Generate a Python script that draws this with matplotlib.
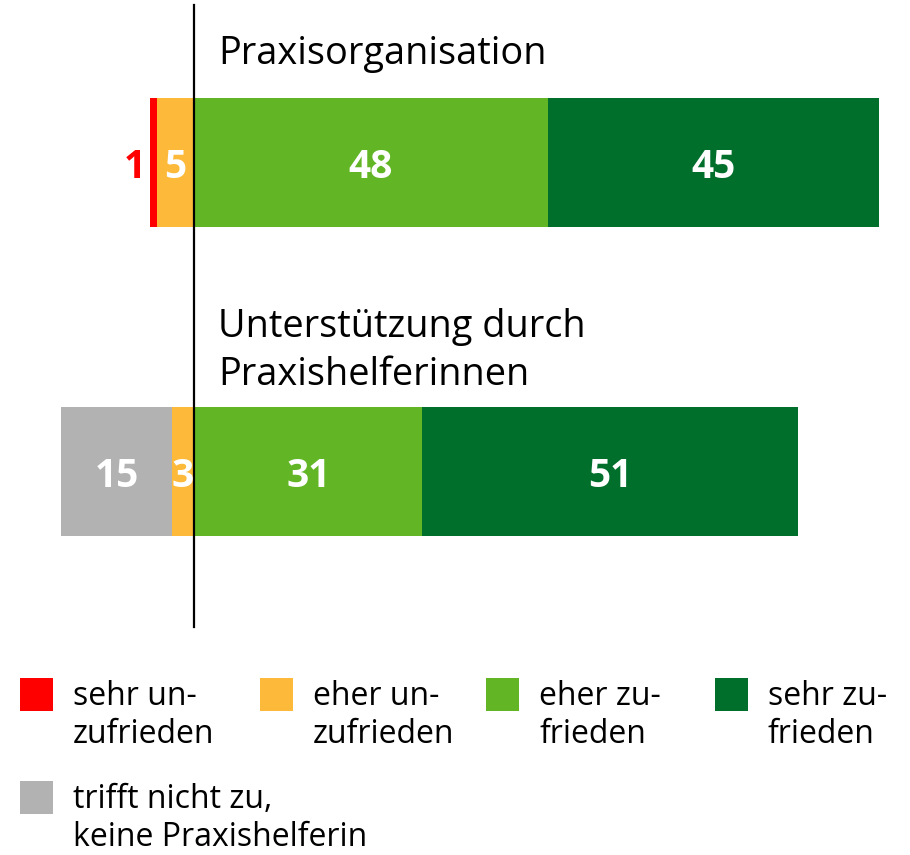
import matplotlib
matplotlib.use("Agg")
from matplotlib import pyplot as plt
import numpy as np

plt.rcParams['font.family'] = ['Open Sans', 'DejaVu Sans']

# daten (prozent)
kategorien = [["Praxisorganisation"], ["Unterstützung durch", "Praxishelferinnen"]]
sehr_un = [1, 0]
eher_un = [5, 3]
trifft_nicht = [0, 15]
eher_zu = [48, 31]
sehr_zu = [45, 51]

farben = {"sehr_un": "#ff0000", "eher_un": "#fdb93a", "eher_zu": "#62b625",
          "sehr_zu": "#006f2c", "nicht": "#b2b2b2"}

leg_labels = [["sehr un-", "zufrieden"], ["eher un-", "zufrieden"], ["eher zu-", "frieden"],
              ["sehr zu-", "frieden"], ["trifft nicht zu,", "keine Praxishelferin"]]
leg_farben = [farben["sehr_un"], farben["eher_un"], farben["eher_zu"], farben["sehr_zu"], farben["nicht"]]

W, H = 910, 855
fig = plt.figure(figsize=(W / 100, H / 100), dpi=100)
ax = fig.add_axes([0, 0, 1, 1])
ax.axis("off")

pxu = 7.37      # pixel pro prozent
zero_px = 194
rowsp = 309
row0 = 162.5
ax.set_xlim(-zero_px / pxu, (W - zero_px) / pxu)
ax.set_ylim((H - row0) / rowsp, -row0 / rowsp)
h = 129 / rowsp

y = np.arange(len(kategorien))
eu = np.array(eher_un)
su = np.array(sehr_un)
tn = np.array(trifft_nicht)
ez = np.array(eher_zu)
sz = np.array(sehr_zu)

ax.barh(y, -eu, height=h, color=farben["eher_un"], lw=0)
ax.barh(y, -su, left=-eu, height=h, color=farben["sehr_un"], lw=0)
ax.barh(y, -tn, left=-eu - su, height=h, color=farben["nicht"], lw=0)
ax.barh(y, ez, height=h, color=farben["eher_zu"], lw=0)
ax.barh(y, sz, left=ez, height=h, color=farben["sehr_zu"], lw=0)

ax.axvline(0, ymin=1 - 627 / H, ymax=1 - 5 / H, color="black", lw=1.6)

kw = dict(fontsize=28, fontweight="bold", va="center_baseline", ha="center")
for i in range(len(y)):
    for val, mid in [(eu[i], -eu[i] / 2), (tn[i], -eu[i] - su[i] - tn[i] / 2),
                     (ez[i], ez[i] / 2), (sz[i], ez[i] + sz[i] / 2)]:
        if val > 0:
            ax.text(mid, y[i], str(val), color="white", **kw)
    if su[i] > 0:
        ax.annotate(str(su[i]), xy=(-eu[i] - su[i], y[i]), xytext=(-4, 0),
                    textcoords="offset pixels", color=farben["sehr_un"],
                    fontsize=28, fontweight="bold", va="center_baseline", ha="right")

# titel ueber den balken
def ftext(x, yb, s, **k):
    fig.text(x / W, 1 - yb / H, s, va="baseline", **k)

titel_base = [[64], [337, 385]]
for zeilen, bases in zip(kategorien, titel_base):
    for z, b in zip(zeilen, bases):
        ftext(218, b, z, fontsize=27.3)

# legende
leg_pos = [(20, 678), (260, 678), (486, 678), (715, 678), (20, 781)]
for (lx, ly), lab, c in zip(leg_pos, leg_labels, leg_farben):
    fig.patches.append(plt.Rectangle((lx / W, 1 - (ly + 33) / H), 33 / W, 33 / H,
                                     transform=fig.transFigure, color=c, lw=0))
    ftext(lx + 53, ly + 27, lab[0], fontsize=23)
    ftext(lx + 53, ly + 65, lab[1], fontsize=23)

fig.savefig("out.png", dpi=100)
